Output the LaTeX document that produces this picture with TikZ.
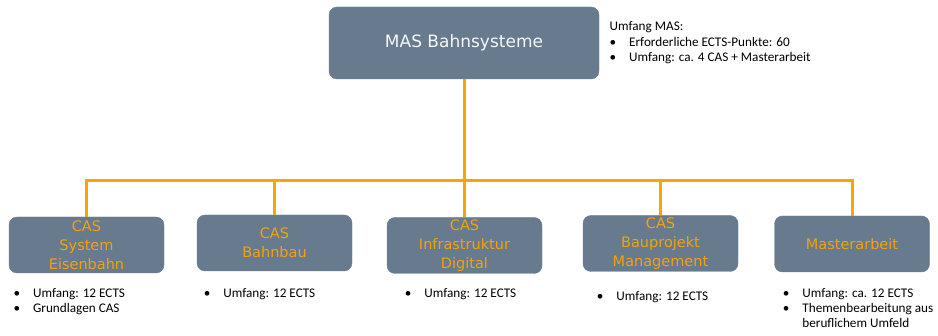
\documentclass[tikz,border=0pt]{standalone}
\usepackage{fontspec}
\setmainfont{Carlito}
\newfontfamily\boxfont{DejaVu Sans}
\usetikzlibrary{positioning}

\definecolor{slate}{HTML}{687A8D}
\definecolor{amber}{HTML}{F7A600}
\definecolor{label}{HTML}{F2A20C}

\newcommand{\bul}{\makebox[19.5pt][l]{\textbullet}}
\newcommand{\ind}{\hspace*{19.5pt}}

\tikzset{
  course/.style={fill=slate, draw=slate, rounded corners=8pt, minimum width=155pt,
    minimum height=56pt, inner sep=0pt, align=center, text=label,
    font=\boxfont\fontsize{14.5}{19}\selectfont},
  link/.style={amber, line width=3pt},
  notes/.style={anchor=base west, inner sep=0pt, align=left,
    font=\fontsize{13.2}{15}\selectfont}
}

\begin{document}
\begin{tikzpicture}[x=1pt,y=-1pt]
            \useasboundingbox (0,0) rectangle (938,336);
            \node[course, minimum width=270pt, minimum height=72pt, text=white!94!slate,
              font=\boxfont\fontsize{17}{20}\selectfont] (mas) at (464,43) {MAS Bahnsysteme};
            \node[course] (sys) at (86.5,245) {CAS\\System\\Eisenbahn};
            \node[course] (bau) at (274.5,243) {CAS\\Bahnbau};
            \node[course] (dig) at (464.5,245.5) {CAS\\Infrastruktur\\Digital};
            \node[course] (mgmt) at (660.5,243.5) {CAS\\Bauprojekt\\Management};
            \node[course] (ma) at (852,244) {Masterarbeit};
            \coordinate (bus) at (464,181);
            \draw[link] (mas.south) -- (bus);
            \draw[link] (sys.north) |- (bus) -| (ma.north);
            \draw[link] (bau.north) -- (bau.north |- bus);
            \draw[link] (dig.north) -- (dig.north |- bus);
            \draw[link] (mgmt.north) -- (mgmt.north |- bus);
            % multi-line notes sit on the baseline of their last line
            \node[notes] (masnote) at (609.5,62) {Umfang MAS:\\[1.5pt]
              \bul Erforderliche ECTS-Punkte: 60\\
              \bul Umfang: ca. 4 CAS + Masterarbeit};
            \node[notes] (sysnote) at (13.4,313) {\bul Umfang: 12 ECTS\\\bul Grundlagen CAS};
            \node[notes] (baunote) at (203.7,298) {\bul Umfang: 12 ECTS};
            \node[notes] (dignote) at (404.7,298) {\bul Umfang: 12 ECTS};
            \node[notes] (mgmtnote) at (596.7,301) {\bul Umfang: 12 ECTS};
            \node[notes] (manote) at (782.7,328) {\bul Umfang: ca. 12 ECTS\\
              \bul Themenbearbeitung aus\\\ind beruflichem Umfeld};
        \end{tikzpicture}
\end{document}
